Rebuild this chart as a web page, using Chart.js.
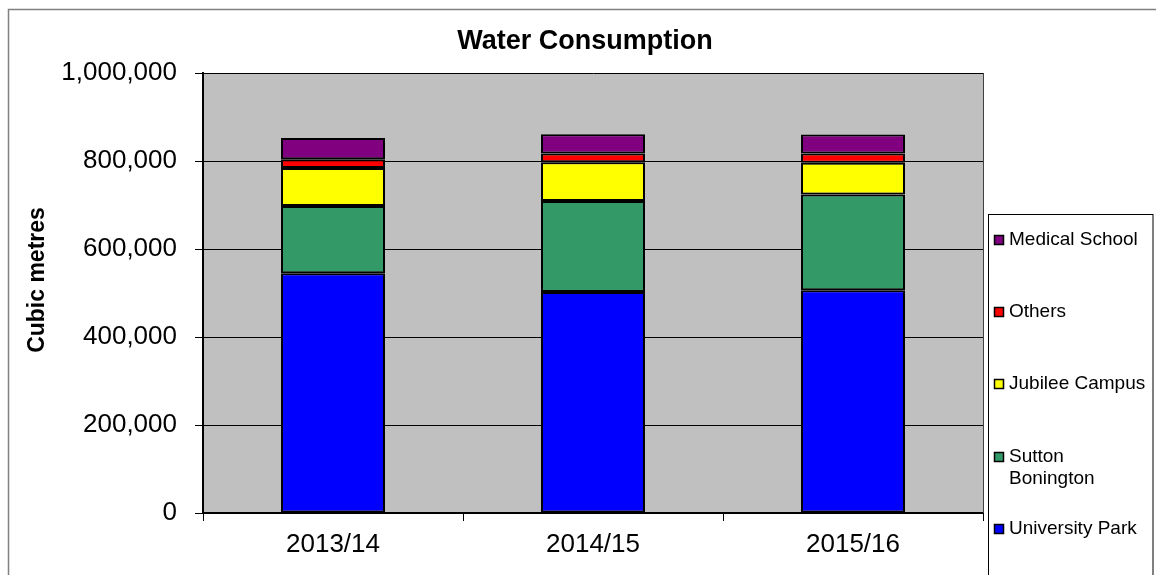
<!DOCTYPE html>
<html><head><meta charset="utf-8">
<script src="https://cdn.jsdelivr.net/npm/chart.js@4.4.1/dist/chart.umd.min.js"></script>
<style>html,body{margin:0;padding:0;background:#fff;overflow:hidden}#wrap{width:1156px;height:575px;position:relative}</style>
</head><body><div id="wrap"><canvas id="c" width="1156" height="575"></canvas></div>
<script>
const categories = ['2013/14', '2014/15', '2015/16'];
const universityPark = [545000, 502000, 506000];
const suttonBonington = [153000, 207000, 218000];
const jubileeCampus = [86000, 88000, 72000];
const others = [20000, 20000, 21000];
const medicalSchool = [48000, 44000, 43000];
const yTicks = [0, 200000, 400000, 600000, 800000, 1000000];
const seriesNames = ['University Park', 'Sutton Bonington', 'Jubilee Campus', 'Others', 'Medical School'];
const legendLines = [['University Park'], ['Sutton', 'Bonington'], ['Jubilee Campus'], ['Others'], ['Medical School']];
const seriesColors = ['#0000FF', '#339966', '#FFFF00', '#FF0000', '#800080'];
const seriesValues = [universityPark, suttonBonington, jubileeCampus, others, medicalSchool];
const chartTitle = 'Water Consumption';
const yTitle = 'Cubic metres';

const FONT = "'Liberation Sans', Arial, sans-serif";

const decor = {
  id: 'decor',
  beforeDraw(chart) {
    const {ctx, chartArea: a} = chart;
    ctx.save();
    ctx.fillStyle = '#fff';
    ctx.fillRect(0, 0, chart.width, chart.height);
    ctx.fillStyle = '#C0C0C0';
    ctx.fillRect(a.left, a.top, a.right - a.left, a.bottom - a.top);
    ctx.restore();
  },
  afterDraw(chart) {
    const {ctx, chartArea: a} = chart;
    ctx.save();
    // outer frame
    ctx.strokeStyle = '#808080';
    ctx.lineWidth = 1.5;
    ctx.beginPath();
    ctx.moveTo(8.5, 600); ctx.lineTo(8.5, 9.5); ctx.lineTo(1200, 9.5);
    ctx.stroke();
    // plot right border
    ctx.strokeStyle = '#404040';
    ctx.lineWidth = 1;
    ctx.beginPath();
    ctx.moveTo(a.right + 0.5, a.top); ctx.lineTo(a.right + 0.5, a.bottom);
    ctx.stroke();
    // title
    ctx.fillStyle = '#000';
    ctx.font = "bold 27px " + FONT;
    ctx.textAlign = 'center';
    ctx.textBaseline = 'alphabetic';
    ctx.fillText(chartTitle, 585, 49);
    // y title
    ctx.save();
    ctx.translate(44, 280);
    ctx.rotate(-Math.PI / 2);
    ctx.font = "bold 23px " + FONT;
    ctx.fillText(yTitle, 0, 0);
    ctx.restore();
    // legend
    ctx.strokeStyle = '#000';
    ctx.lineWidth = 1;
    ctx.fillStyle = '#fff';
    ctx.fillRect(988, 214, 165, 400);
    ctx.strokeRect(988.5, 214.5, 164.5, 400);
    const ys = [529, 457, 384, 312, 240];
    ctx.font = "19px " + FONT;
    ctx.textAlign = 'left';
    ctx.textBaseline = 'middle';
    for (let i = 0; i < seriesNames.length; i++) {
      const y = ys[i];
      ctx.fillStyle = seriesColors[i];
      ctx.fillRect(994, y - 5, 10, 10);
      ctx.strokeStyle = '#000';
      ctx.lineWidth = 1.5;
      ctx.strokeRect(994.5, y - 4.5, 9, 9);
      ctx.fillStyle = '#000';
      legendLines[i].forEach((t, k) => ctx.fillText(t, 1009, y + k * 22));
    }
    ctx.restore();
  }
};

new Chart(document.getElementById('c'), {
  type: 'bar',
  data: {
    labels: categories,
    datasets: seriesNames.map((n, i) => ({
      label: n,
      data: seriesValues[i],
      backgroundColor: seriesColors[i],
      borderColor: '#000',
      borderWidth: 2,
      borderSkipped: false,
      barPercentage: 0.4,
      categoryPercentage: 1
    }))
  },
  options: {
    responsive: false,
    animation: false,
    layout: {padding: {left: 0, top: 73, right: 173, bottom: 0}},
    plugins: {legend: {display: false}, title: {display: false}, tooltip: {enabled: false}},
    scales: {
      x: {
        stacked: true,
        grid: {offset: true, drawOnChartArea: false, tickLength: 8, color: '#000', lineWidth: 1},
        border: {color: '#000', width: 2},
        ticks: {color: '#000', font: {family: FONT, size: 26}, padding: 8, maxRotation: 0},
        afterFit(s) { s.height = 62; }
      },
      y: {
        stacked: true,
        min: 0, max: 1000000,
        afterBuildTicks(s) { s.ticks = yTicks.map(v => ({value: v})); },
        grid: {color: '#000', lineWidth: 1, tickLength: 8},
        border: {color: '#000', width: 2},
        ticks: {color: '#000', font: {family: FONT, size: 26}, padding: 18,
          callback: v => Number(v).toLocaleString('en-US')},
        afterFit(s) { s.width = 203; }
      }
    }
  },
  plugins: [decor]
});
</script>
</body></html>
